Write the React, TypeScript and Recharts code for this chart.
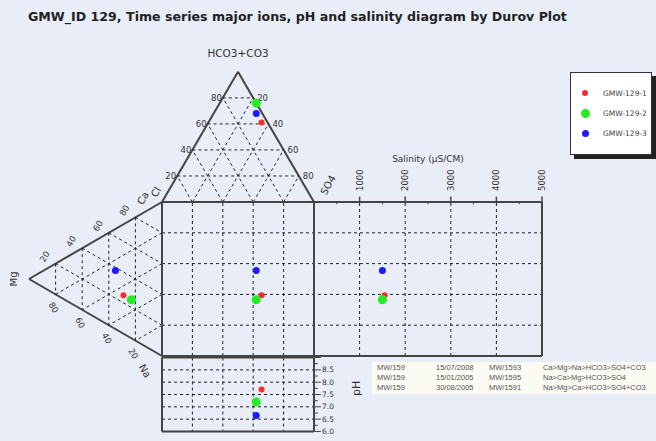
import React from 'react';
import { ScatterChart, Scatter, XAxis, YAxis, ReferenceLine } from 'recharts';

const TITLE = 'GMW_ID 129, Time series major ions, pH and salinity diagram by Durov Plot';

// one entry per sample
const samples = ['GMW-129-1', 'GMW-129-2', 'GMW-129-3'];
const colors = ['#ff2a2a', '#22ee22', '#1a1aff'];
const radius = [3, 4.5, 3.5];
const hco3 = [61, 76, 68];
const so4 = [35, 24, 28];
const cl = [4, 0, 4];
const ca = [25, 25, 38];
const mg = [29, 23, 35];
const na = [46, 52, 27];
const salinity = [1550, 1500, 1500];
const ph = [7.7, 7.2, 6.65];

const gridPct = [20, 40, 60, 80];
const salinityTicks = [1000, 2000, 3000, 4000, 5000];
const phTicks = [6.0, 6.5, 7.0, 7.5, 8.0, 8.5];

const tableRows = [
  ['MW/159', '15/07/2008', 'MW/1593', 'Ca>Mg>Na>HCO3>SO4+CO3'],
  ['MW/159', '15/01/2005', 'MW/1595', 'Na>Ca>Mg>HCO3>SO4'],
  ['MW/159', '30/08/2005', 'MW/1591', 'Na>Mg>Ca>HCO3>SO4+CO3'],
];

// diagram geometry, square = 100 x 100 units
const TRI_H = 84.5;
const LEFT_D = 87.5;
const SAL_W = 150;
const SAL_MAX = 5000;
const PH_MIN = 6;
const PH_MAX = 9;
const PH_TOP = -1;
const PH_BOT = -49;

const anion = (h: number, c: number, s: number) => {
  const t = h + c + s;
  return { x: (50 * h + 100 * s) / t, y: 100 + (TRI_H * h) / t };
};
const cation = (c: number, m: number, n: number) => {
  const t = c + m + n;
  return { x: (-LEFT_D * m) / t, y: (50 * m + 100 * c) / t };
};
const salX = (v: number) => 100 + (SAL_W * v) / SAL_MAX;
const phY = (v: number) => PH_BOT + ((PH_TOP - PH_BOT) * (v - PH_MIN)) / (PH_MAX - PH_MIN);

type P = { x: number; y: number };
type Seg = { a: P; b: P; dash?: boolean; w?: number };

const segs: Seg[] = [];
const frame = (a: P, b: P) => segs.push({ a, b, w: 2 });
const dash = (a: P, b: P) => segs.push({ a, b, dash: true });

// top triangle
frame(anion(100, 0, 0), anion(0, 100, 0));
frame(anion(100, 0, 0), anion(0, 0, 100));
gridPct.forEach((f) => {
  dash(anion(f, 100 - f, 0), anion(f, 0, 100 - f));
  dash(anion(0, 100 - f, f), anion(100 - f, 0, f));
  dash(anion(0, f, 100 - f), anion(100 - f, f, 0));
});
// left triangle
frame(cation(0, 100, 0), cation(100, 0, 0));
frame(cation(0, 100, 0), cation(0, 0, 100));
gridPct.forEach((f) => {
  dash(cation(100 - f, f, 0), cation(0, f, 100 - f));
  dash(cation(f, 100 - f, 0), cation(f, 0, 100 - f));
  dash(cation(100 - f, 0, f), cation(0, 100 - f, f));
});
// square + salinity box
gridPct.forEach((f) => {
  dash({ x: f, y: 0 }, { x: f, y: 100 });
  dash({ x: 0, y: f }, { x: salX(SAL_MAX), y: f });
  dash({ x: f, y: PH_TOP }, { x: f, y: PH_BOT });
});
salinityTicks.slice(0, -1).forEach((v) => dash({ x: salX(v), y: 0 }, { x: salX(v), y: 100 }));
salinityTicks.forEach((v) => segs.push({ a: { x: salX(v), y: 100 }, b: { x: salX(v), y: 103.5 }, w: 1.5 }));
salinityTicks.forEach((v) => segs.push({ a: { x: salX(v - 500), y: 100 }, b: { x: salX(v - 500), y: 98.5 }, w: 1 }));
frame({ x: 0, y: 100 }, { x: salX(SAL_MAX), y: 100 });
frame({ x: 0, y: 0 }, { x: salX(SAL_MAX), y: 0 });
frame({ x: 0, y: 0 }, { x: 0, y: 100 });
frame({ x: 100, y: 0 }, { x: 100, y: 100 });
frame({ x: salX(SAL_MAX), y: 0 }, { x: salX(SAL_MAX), y: 100 });
// pH box
phTicks.slice(1).forEach((v) => dash({ x: 0, y: phY(v) }, { x: 100, y: phY(v) }));
for (let v = PH_MIN; v <= PH_MAX + 0.01; v += 0.25) {
  const major = Math.abs(v * 2 - Math.round(v * 2)) < 0.01;
  segs.push({ a: { x: 100, y: phY(v) }, b: { x: major ? 104.5 : 102.5, y: phY(v) }, w: 1 });
}
frame({ x: 0, y: PH_TOP }, { x: 100, y: PH_TOP });
frame({ x: 0, y: PH_BOT }, { x: 100, y: PH_BOT });
frame({ x: 0, y: PH_TOP }, { x: 0, y: PH_BOT });
frame({ x: 100, y: PH_TOP }, { x: 100, y: PH_BOT });

type L = P & { text: string; dx?: number; dy?: number; rot?: number; anchor?: string; size?: number };
const labels: L[] = [];
const lab = (p: P, text: string, o: Partial<L> = {}) => labels.push({ ...p, text, ...o });

lab(anion(100, 0, 0), 'HCO3+CO3', { dy: -19, anchor: 'middle', size: 10.5 });
gridPct.forEach((f) => {
  lab(anion(f, 100 - f, 0), String(f), { dx: -1, dy: 0, anchor: 'end' });
  lab(anion(100 - f, 0, f), String(f), { dx: 4, dy: 0 });
  lab(cation(f, 100 - f, 0), String(f), { dx: -11, dy: -7, rot: -60, anchor: 'middle' });
  lab(cation(0, f, 100 - f), String(f), { dx: -2, dy: 13, rot: 60, anchor: 'middle' });
});
lab(cation(100, 0, 0), 'Ca', { dx: -19, dy: -4, rot: -60, anchor: 'middle', size: 10 });
lab(anion(0, 100, 0), 'Cl', { dx: -6, dy: -10, rot: -60, anchor: 'middle', size: 10 });
lab(anion(0, 0, 100), 'SO4', { dx: 14, dy: -17, rot: -60, anchor: 'middle', size: 10 });
lab(cation(0, 100, 0), 'Mg', { dx: -16, rot: -90, anchor: 'middle', size: 10 });
lab(cation(0, 0, 100), 'Na', { dx: -17, dy: 15, rot: 60, anchor: 'middle', size: 10 });
lab({ x: salX(2500), y: 100 }, 'Salinity (\u00b5S/CM)', { dy: -43, anchor: 'middle', size: 9 });
salinityTicks.forEach((v) => lab({ x: salX(v), y: 100 }, String(v), { dx: 0, dy: -11, rot: -90 }));
phTicks.forEach((v) => lab({ x: 100, y: phY(v) }, v.toFixed(1), { dx: 8, dy: 0, size: 7.5 }));
lab({ x: 100, y: phY(7.75) }, 'pH', { dx: 43, rot: -90, anchor: 'middle', size: 11 });

const seriesData = samples.map((name, i) => {
  const a = anion(hco3[i], cl[i], so4[i]);
  const k = cation(ca[i], mg[i], na[i]);
  return [a, k, { x: a.x, y: k.y }, { x: salX(salinity[i]), y: k.y }, { x: a.x, y: phY(ph[i]) }];
});

const FONT = '"DejaVu Sans", Verdana, sans-serif';
const NARROW = '"Liberation Sans", Arial, sans-serif';

const renderLabel = (p: any) => {
  const d: L = p.payload;
  const x = p.cx + (d.dx || 0);
  const y = p.cy + (d.dy || 0);
  return (
    <text
      x={x}
      y={y}
      fontSize={d.size || 8.5}
      fontFamily={FONT}
      fill="#333"
      textAnchor={d.anchor || 'start'}
      dominantBaseline="central"
      transform={d.rot ? `rotate(${d.rot} ${x} ${y})` : undefined}
    >
      {d.text}
    </text>
  );
};

export default function App() {
  return (
    <div style={{ position: 'fixed', left: 0, top: 0, width: 656, height: 441, background: '#e9edf7', fontFamily: FONT }}>
      <div style={{ position: 'absolute', left: 28, top: 9, fontSize: 12.6, fontWeight: 'bold', color: '#222', whiteSpace: 'nowrap' }}>
        {TITLE}
      </div>
      <ScatterChart width={656} height={441} margin={{ top: 9.5, right: 7.6, bottom: 0.3, left: 10 }}>
        <XAxis type="number" dataKey="x" domain={[-100, 320]} allowDataOverflow hide />
        <YAxis type="number" dataKey="y" domain={[-55, 225]} allowDataOverflow hide />
        {segs.map((s, i) => (
          <ReferenceLine
            key={i}
            segment={[s.a, s.b]}
            stroke={s.dash ? '#222' : '#444'}
            strokeWidth={s.w || 1}
            strokeDasharray={s.dash ? '3 3' : undefined}
            ifOverflow="visible"
          />
        ))}
        <Scatter data={labels} shape={renderLabel} isAnimationActive={false} />
        {samples.map((name, i) => (
          <Scatter
            key={name}
            name={name}
            data={seriesData[i]}
            isAnimationActive={false}
            shape={(p: any) => <circle cx={p.cx} cy={p.cy} r={radius[i]} fill={colors[i]} />}
          />
        ))}
      </ScatterChart>
      <div
        style={{
          position: 'absolute', left: 570, top: 72, width: 80, height: 81, background: '#fff',
          border: '1px solid #333', boxShadow: '4px 4px 0 #222',
        }}
      >
        {samples.map((name, i) => (
          <div key={name} style={{ position: 'absolute', left: 10, top: 15 + i * 20, height: 10, display: 'flex', alignItems: 'center' }}>
            <span style={{ display: 'inline-block', width: radius[i] * 2, height: radius[i] * 2, borderRadius: '50%', background: colors[i], marginLeft: 4 - radius[i] }} />
            <span style={{ position: 'absolute', left: 22, fontSize: 7.5, color: '#444', whiteSpace: 'nowrap' }}>{name}</span>
          </div>
        ))}
      </div>
      <div style={{ position: 'absolute', left: 372, top: 362, width: 284, height: 32, background: '#fbfbf4', fontFamily: NARROW }}>
        {tableRows.map((row, r) => (
          <div key={r} style={{ position: 'absolute', top: 1 + r * 10, left: 0, fontSize: 7.5, color: '#555', whiteSpace: 'nowrap' }}>
            {row.map((cell, c) => (
              <span key={c} style={{ position: 'absolute', left: [5, 64, 117, 171][c] }}>{cell}</span>
            ))}
          </div>
        ))}
      </div>
    </div>
  );
}
